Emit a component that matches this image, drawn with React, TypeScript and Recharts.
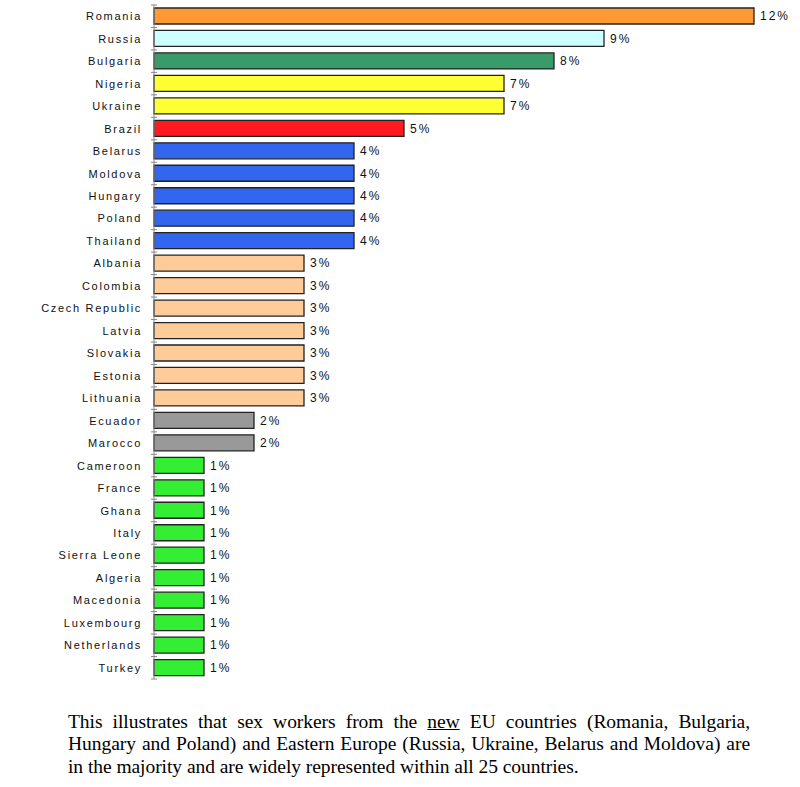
import React from 'react';
import { BarChart, Bar, XAxis, YAxis, Cell, LabelList } from 'recharts';

const countries = [
  'Romania', 'Russia', 'Bulgaria', 'Nigeria', 'Ukraine', 'Brazil', 'Belarus', 'Moldova',
  'Hungary', 'Poland', 'Thailand', 'Albania', 'Colombia', 'Czech Republic', 'Latvia',
  'Slovakia', 'Estonia', 'Lithuania', 'Ecuador', 'Marocco', 'Cameroon', 'France', 'Ghana',
  'Italy', 'Sierra Leone', 'Algeria', 'Macedonia', 'Luxembourg', 'Netherlands', 'Turkey',
];
const shares = [12, 9, 8, 7, 7, 5, 4, 4, 4, 4, 4, 3, 3, 3, 3, 3, 3, 3, 2, 2, 1, 1, 1, 1, 1, 1, 1, 1, 1, 1];
const colors = [
  '#FF9933', '#CCFFFF', '#3A9A6A', '#FFFF33', '#FFFF33', '#FF1A22', '#3366EE', '#3366EE',
  '#3366EE', '#3366EE', '#3366EE', '#FFCC99', '#FFCC99', '#FFCC99', '#FFCC99', '#FFCC99',
  '#FFCC99', '#FFCC99', '#999999', '#999999', '#33EE33', '#33EE33', '#33EE33', '#33EE33',
  '#33EE33', '#33EE33', '#33EE33', '#33EE33', '#33EE33', '#33EE33',
];

const data = countries.map((name, i) => ({ name, value: shares[i], color: colors[i] }));

const TOP = 5;
const PLOT_H = 674;
const BAND = PLOT_H / countries.length;
const AXIS_X = 154;

const CountryTick = (props: any) => {
  const { y, payload, index } = props;
  const top = y - BAND / 2;
  return (
    <g>
      <line x1={AXIS_X - 3} x2={AXIS_X + 3} y1={top} y2={top} stroke="#888" />
      {index === countries.length - 1 && (
        <line x1={AXIS_X - 3} x2={AXIS_X + 3} y1={top + BAND} y2={top + BAND} stroke="#888" />
      )}
      <text
        x={AXIS_X - 12}
        y={y}
        dy={4}
        textAnchor="end"
        fontFamily="Liberation Sans, Arial, sans-serif"
        fontSize={11}
        letterSpacing={1.7}
        fill="#111"
      >
        {payload.value}
      </text>
    </g>
  );
};

const lineStyle: React.CSSProperties = { textAlign: 'justify', textAlignLast: 'justify', whiteSpace: 'nowrap' };

const App = () => {
  return (
    <div style={{ position: 'absolute', left: 0, top: 0, width: 800, height: 787, background: '#fff' }}>
      <BarChart
        width={800}
        height={690}
        data={data}
        layout="vertical"
        margin={{ top: TOP, right: 46, bottom: 690 - TOP - PLOT_H, left: 0 }}
        barSize={16}
      >
        <XAxis type="number" domain={[0, 12]} hide />
        <YAxis
          type="category"
          dataKey="name"
          width={AXIS_X}
          stroke="#888"
          tickLine={false}
          tick={<CountryTick />}
          interval={0}
        />
        <Bar dataKey="value" stroke="#222" strokeWidth={1.3} isAnimationActive={false}>
          {data.map((d) => (
            <Cell key={d.name} fill={d.color} />
          ))}
          <LabelList
            dataKey="value"
            position="right"
            offset={6}
            formatter={(v: any) => `${v}%`}
            style={{ fontFamily: 'Liberation Sans, Arial, sans-serif', fontSize: 12, letterSpacing: 2, fill: '#111' }}
          />
        </Bar>
      </BarChart>
      <div
        style={{
          position: 'absolute',
          left: 68,
          top: 711,
          width: 682,
          fontFamily: '"Liberation Serif", "Times New Roman", serif',
          fontSize: 19.5,
          letterSpacing: -0.05,
          lineHeight: '22.3px',
          color: '#000',
        }}
      >
        <div style={lineStyle}>
          This illustrates that sex workers from the <u>new</u> EU countries (Romania, Bulgaria,
        </div>
        <div style={lineStyle}>
          Hungary and Poland) and Eastern Europe (Russia, Ukraine, Belarus and Moldova) are
        </div>
        <div>in the majority and are widely represented within all 25 countries.</div>
      </div>
    </div>
  );
};

export default App;
